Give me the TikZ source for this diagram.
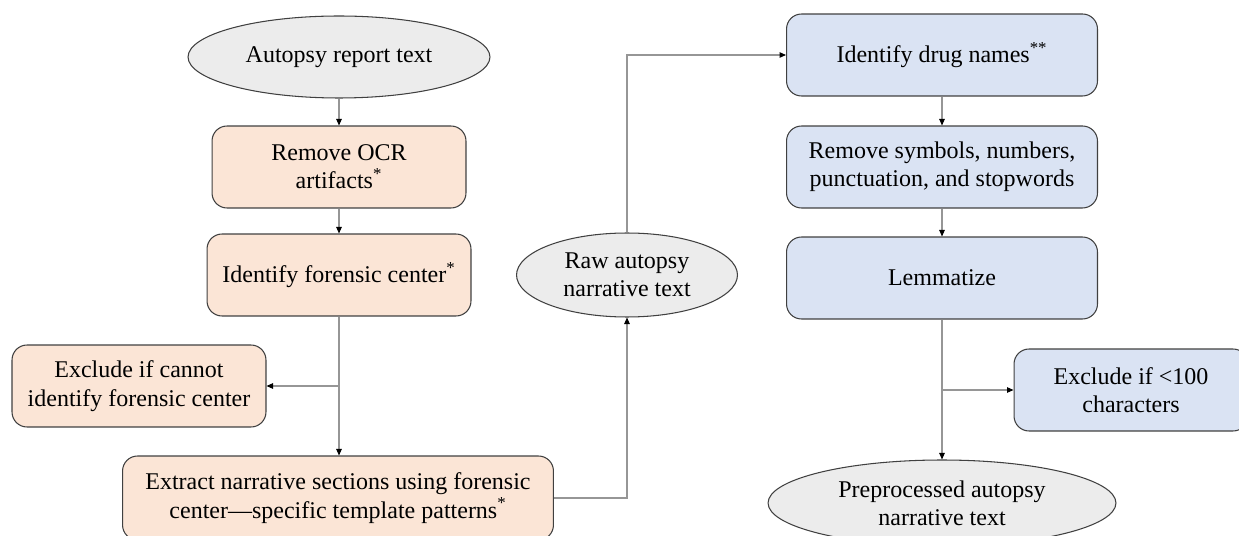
\documentclass[tikz,border=0pt]{standalone}
\usepackage{fontspec}
\setmainfont{Liberation Serif}
\usetikzlibrary{
  arrows.meta,
  positioning,
  shapes.geometric,
  calc
}
\definecolor{extract}{RGB}{251,229,214}
\definecolor{clean}{RGB}{218,227,243}
\definecolor{textdata}{RGB}{236,236,236}
\definecolor{edge}{RGB}{64,64,64}
\definecolor{link}{RGB}{150,150,150}

\begin{document}
\begin{tikzpicture}[
  x=0.02cm, y=-0.02cm,
  every node/.style={font=\fontsize{13.66}{16.1}\selectfont, align=center},
  stage/.style={draw=edge, line width=0.6pt, rounded corners=0.3cm, inner sep=2pt, minimum height=1.64cm},
  data/.style={ellipse, draw=edge, line width=0.6pt, fill=textdata, inner sep=0pt},
  flow/.style={draw=link, line width=0.6pt, -{Triangle[length=1.3mm, width=1.1mm, color=black]}}
]
\useasboundingbox (0,0) rectangle (1239,536);

\node[data, minimum width=6.04cm, minimum height=1.64cm] (report) at (339,57) {Autopsy report text};
\node[stage, fill=extract, minimum width=5.08cm] (ocr) at (339,167) {Remove OCR\\artifacts\textsuperscript{*}};
\node[stage, fill=extract, minimum width=5.28cm] (center) at (339,275) {Identify forensic center\textsuperscript{*}};
\node[stage, fill=extract, minimum width=5.08cm] (nocenter) at (139,386) {Exclude if cannot\\identify forensic center};
\node[stage, fill=extract, minimum width=8.62cm, minimum height=1.68cm] (sections) at (338,498) {Extract narrative sections using forensic\\center---specific template patterns\textsuperscript{*}};

\node[data, minimum width=4.42cm, minimum height=1.68cm] (raw) at (627,275) {Raw autopsy\\narrative text};

\node[stage, fill=clean, minimum width=6.22cm] (drugs) at (942,55) {Identify drug names\textsuperscript{**}};
\node[stage, fill=clean, minimum width=6.22cm] (symbols) at (942,167) {Remove symbols, numbers,\\punctuation, and stopwords};
\node[stage, fill=clean, minimum width=6.22cm] (lemma) at (942,278) {Lemmatize};
\node[stage, fill=clean, minimum width=4.68cm] (short) at (1131,390) {Exclude if <100\\characters};
\node[data, minimum width=6.96cm, minimum height=1.72cm] (final) at (942,503) {Preprocessed autopsy\\narrative text};

\coordinate (forkl) at (center.south |- nocenter.east);
\coordinate (forkr) at (lemma.south |- short.west);

\draw[flow] (report) -- (ocr);
\draw[flow] (ocr) -- (center);
\draw[flow] (center.south) -- (center.south |- sections.north);
\draw[flow] (forkl) -- (nocenter.east);
\draw[flow] (sections.east) -| (raw.south);
\draw[flow] (raw.north) |- (drugs.west);
\draw[flow] (drugs) -- (symbols);
\draw[flow] (symbols) -- (lemma);
\draw[flow] (lemma.south) -- (final.north);
\draw[flow] (forkr) -- (short.west);

\end{tikzpicture}
\end{document}
